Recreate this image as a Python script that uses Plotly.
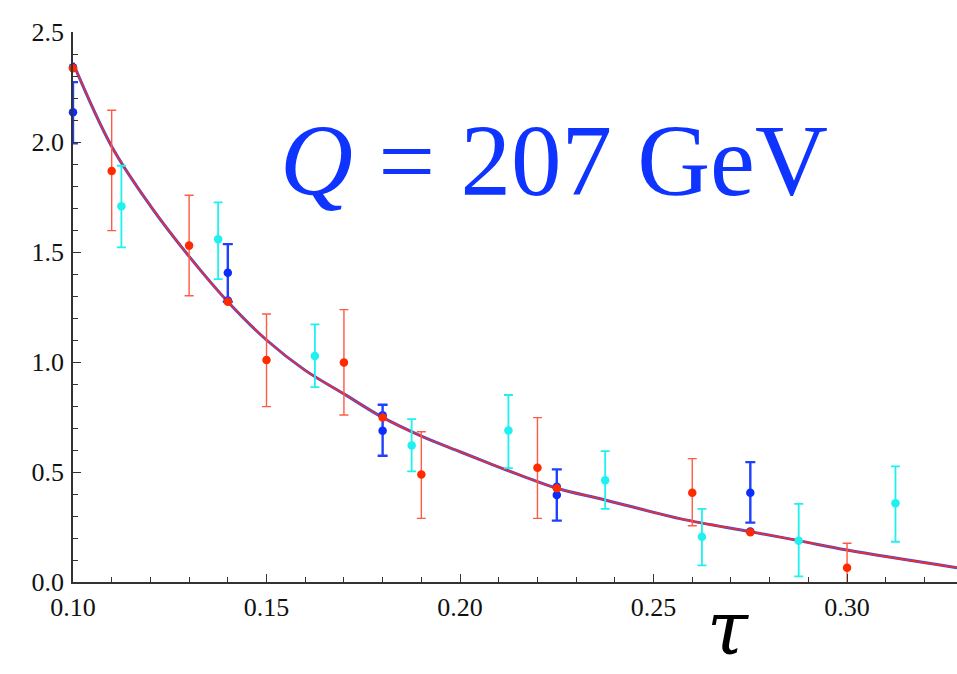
import plotly.graph_objects as go

# ---- data ----
# theory curve
curve_x = [0.100, 0.110, 0.120, 0.130, 0.140, 0.150, 0.160, 0.170, 0.180, 0.190,
           0.200, 0.208, 0.2155, 0.225, 0.2375, 0.2568, 0.275, 0.2875, 0.300, 0.3284]
curve_y = [2.36, 1.98, 1.71, 1.48, 1.274, 1.100, 0.962, 0.855, 0.748, 0.663,
           0.592, 0.536, 0.486, 0.426, 0.373, 0.288, 0.229, 0.188, 0.145, 0.065]

# red data points with error bars
red_x = [0.11, 0.13, 0.15, 0.17, 0.19, 0.22, 0.26, 0.30]
red_y = [1.868, 1.529, 1.009, 0.998, 0.489, 0.519, 0.406, 0.065]
red_hi = [2.144, 1.758, 1.218, 1.238, 0.683, 0.747, 0.561, 0.176]
red_lo = [1.597, 1.301, 0.797, 0.759, 0.289, 0.289, 0.256, -0.02]

# cyan data points with error bars
cyan_x = [0.1125, 0.1375, 0.1625, 0.1875, 0.2125, 0.2375, 0.2625, 0.2875, 0.3125]
cyan_y = [1.708, 1.558, 1.027, 0.621, 0.689, 0.462, 0.206, 0.188, 0.358]
cyan_hi = [1.892, 1.726, 1.171, 0.740, 0.850, 0.595, 0.332, 0.355, 0.526]
cyan_lo = [1.521, 1.377, 0.886, 0.503, 0.518, 0.332, 0.076, 0.026, 0.183]

# blue data points with error bars
blue_x = [0.10, 0.14, 0.18, 0.225, 0.275]
blue_y = [2.135, 1.406, 0.688, 0.395, 0.406]
blue_hi = [2.272, 1.536, 0.806, 0.512, 0.545]
blue_lo = [1.994, 1.274, 0.574, 0.279, 0.270]

# points lying on the curve
blue_on_x = [0.10, 0.14, 0.18, 0.225, 0.275]
blue_on_y = [2.340, 1.280, 0.758, 0.433, 0.230]
red_on_x = [0.10, 0.14, 0.18, 0.225, 0.275]
red_on_y = [2.335, 1.274, 0.748, 0.426, 0.226]

x_ticks = [0.10, 0.15, 0.20, 0.25, 0.30]
y_ticks = [0.0, 0.5, 1.0, 1.5, 2.0, 2.5]

RED = "#ff2a00"
RED_BAR = "#ff5a44"
CYAN = "#1ff0f0"
BLUE = "#0a2cff"
BLUE_BAR = "#1f40ff"

SERIF = "Liberation Serif, Times New Roman, DejaVu Serif, serif"


def err(y, hi, lo):
    return [h - v for h, v in zip(hi, y)], [v - l for v, l in zip(y, lo)]


fig = go.Figure()

# curve: blue under red
fig.add_trace(go.Scatter(x=curve_x, y=curve_y, mode="lines", line_shape="spline",
                         line=dict(color="#3050ff", width=3), hoverinfo="skip"))
fig.add_trace(go.Scatter(x=curve_x, y=curve_y, mode="lines", line_shape="spline",
                         line=dict(color="#ff2a10", width=1.6), hoverinfo="skip"))

bp, bm = err(blue_y, blue_hi, blue_lo)
fig.add_trace(go.Scatter(x=blue_on_x, y=blue_on_y, mode="markers", cliponaxis=False,
                         marker=dict(color=BLUE, size=8.5)))
fig.add_trace(go.Scatter(x=blue_x, y=blue_y, mode="markers", cliponaxis=False,
                         marker=dict(color=BLUE, size=8.5),
                         error_y=dict(type="data", symmetric=False, array=bp, arrayminus=bm,
                                      color=BLUE_BAR, thickness=2.4, width=5)))

cp, cm = err(cyan_y, cyan_hi, cyan_lo)
fig.add_trace(go.Scatter(x=cyan_x, y=cyan_y, mode="markers", cliponaxis=False,
                         marker=dict(color=CYAN, size=8.5),
                         error_y=dict(type="data", symmetric=False, array=cp, arrayminus=cm,
                                      color=CYAN, thickness=1.8, width=4.5)))

rp, rm = err(red_y, red_hi, red_lo)
fig.add_trace(go.Scatter(x=red_x, y=red_y, mode="markers", cliponaxis=False,
                         marker=dict(color=RED, size=8.5),
                         error_y=dict(type="data", symmetric=False, array=rp, arrayminus=rm,
                                      color=RED_BAR, thickness=1.4, width=4.5)))
fig.add_trace(go.Scatter(x=red_on_x, y=red_on_y, mode="markers", cliponaxis=False,
                         marker=dict(color=RED, size=8.5)))

tickfont = dict(family=SERIF, size=26, color="#111")
fig.update_layout(
    width=957, height=674,
    margin=dict(l=73, r=0, t=32, b=92),
    paper_bgcolor="white", plot_bgcolor="white",
    showlegend=False,
    font=dict(family=SERIF),
    xaxis=dict(range=[0.1, 0.3284], tickvals=x_ticks,
               ticktext=[f"{v:.2f}" for v in x_ticks],
               ticks="inside", ticklen=8, tickwidth=1.2, tickcolor="#333",
               minor=dict(ticks="inside", ticklen=5, dtick=0.01, tick0=0.1,
                          tickcolor="#333", tickwidth=1),
               showline=True, linecolor="#333", linewidth=1.5,
               showgrid=False, zeroline=False, tickfont=tickfont,
               ticklabelstandoff=1),
    yaxis=dict(range=[0, 2.5], tickvals=y_ticks,
               ticktext=[f"{v:.1f}" for v in y_ticks],
               ticks="inside", ticklen=8, tickwidth=1.2, tickcolor="#333",
               minor=dict(ticks="inside", ticklen=5, dtick=0.1, tick0=0,
                          tickcolor="#333", tickwidth=1),
               showline=True, linecolor="#333", linewidth=1.5,
               showgrid=False, zeroline=False, tickfont=tickfont,
               ticklabelstandoff=2),
    annotations=[
        dict(text="<i>Q</i> = 207 GeV", xref="paper", yref="paper",
             x=0.544, y=0.765, xanchor="center", yanchor="middle", showarrow=False,
             font=dict(family=SERIF, size=101, color="#1034ff")),
        dict(text="<i>τ</i>", xref="paper", yref="paper",
             x=0.741, y=-0.1655, xanchor="center", yanchor="bottom", showarrow=False,
             font=dict(family="DejaVu Serif", size=74, color="black")),
    ],
)

fig.write_html("out.html")
